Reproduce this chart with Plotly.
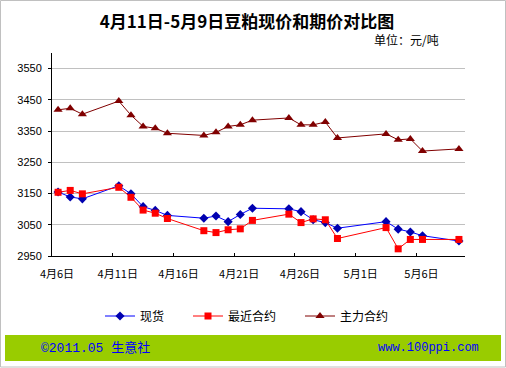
import plotly.graph_objects as go

# ---- data ----
dates = ["2011-04-06", "2011-04-07", "2011-04-08",
         "2011-04-11", "2011-04-12", "2011-04-13", "2011-04-14", "2011-04-15",
         "2011-04-18", "2011-04-19", "2011-04-20", "2011-04-21", "2011-04-22",
         "2011-04-25", "2011-04-26", "2011-04-27", "2011-04-28", "2011-04-29",
         "2011-05-03", "2011-05-04", "2011-05-05", "2011-05-06", "2011-05-09"]
spot = [3155, 3139, 3133, 3175, 3149, 3108, 3096, 3080, 3071, 3078, 3060, 3083, 3103,
        3101, 3092, 3066, 3057, 3039, 3060, 3036, 3027, 3015, 2998]
nearby = [3154, 3160, 3149, 3170, 3138, 3097, 3087, 3070, 3031, 3025, 3034, 3037, 3064,
          3084, 3057, 3069, 3066, 3006, 3041, 2973, 3003, 3003, 3003]
main = [3418, 3423, 3404, 3446, 3401, 3365, 3359, 3343, 3336, 3346, 3365, 3370, 3385,
        3392, 3370, 3370, 3379, 3328, 3341, 3322, 3325, 3286, 3293]
series_names = ["现货", "最近合约", "主力合约"]
tick_dates = ["2011-04-06", "2011-04-11", "2011-04-16", "2011-04-21",
              "2011-04-26", "2011-05-01", "2011-05-06"]
tick_text = ["4月6日", "4月11日", "4月16日", "4月21日", "4月26日", "5月1日", "5月6日"]
y_ticks = [2950, 3050, 3150, 3250, 3350, 3450, 3550]
title_text = "4月11日-5月9日豆粕现价和期价对比图"
unit_text = "单位：元/吨"
footer_left = "©2011.05 生意社"
footer_right = "www.100ppi.com"

W, H = 506, 368
L, R, T, B = 52, 41, 53, 112
PW, PH = W - L - R, H - T - B


def px(x):
    return (x - L) / PW


def py(y):
    return (H - B - y) / PH


CJK = "Noto Sans CJK SC"
fig = go.Figure()

styles = [
    dict(line=dict(color="#0000ff", width=1),
         marker=dict(symbol="diamond", size=7, color="#0000b0")),
    dict(line=dict(color="#ff0000", width=1),
         marker=dict(symbol="square", size=7, color="#ff0000")),
    dict(line=dict(color="#800000", width=1),
         marker=dict(symbol="triangle-up", size=8, color="#800000")),
]
legends = ["legend", "legend2", "legend3"]
for vals, name, st, lg in zip([spot, nearby, main], series_names, styles, legends):
    fig.add_trace(go.Scatter(
        x=dates, y=vals, name=name, mode="lines+markers",
        xperiod=86400000, xperiodalignment="middle",
        legend=lg, **st))

leg_x = [100, 188, 300]
leg_common = dict(orientation="h", xanchor="left", yanchor="middle",
                  y=py(316), bgcolor="rgba(0,0,0,0)", borderwidth=0,
                  font=dict(family=CJK, size=12, color="#000000"),
                  itemwidth=30)

fig.update_layout(
    width=W, height=H,
    margin=dict(l=L, r=R, t=T, b=B, autoexpand=False),
    paper_bgcolor="#ffffff", plot_bgcolor="#ffffff",
    title=dict(text="<b>" + title_text + "</b>", x=247 / W, xanchor="center",
               y=1 - 22 / H, yanchor="middle",
               font=dict(family=CJK, size=17, color="#000000")),
    xaxis=dict(type="date", range=["2011-04-06", "2011-05-10"],
               tickvals=tick_dates, ticktext=tick_text,
               ticks="inside", ticklen=3, tickcolor="#000000",
               showline=True, linecolor="#000000", linewidth=1,
               showgrid=False, zeroline=False, automargin=False,
               ticklabelshift=5, ticklabelstandoff=8,
               tickfont=dict(family=CJK, size=11, color="#000000")),
    yaxis=dict(range=[2950, 3600], tickvals=y_ticks,
               ticks="outside", ticklen=3, tickcolor="#000000",
               showline=True, linecolor="#000000", linewidth=1,
               showgrid=True, gridcolor="#c0c0c0", gridwidth=1,
               zeroline=False, ticklabelstandoff=4, automargin=False,
               tickfont=dict(family="Arial, Liberation Sans", size=11, color="#000000")),
    legend=dict(x=px(leg_x[0]), **leg_common),
    legend2=dict(x=px(leg_x[1]), **leg_common),
    legend3=dict(x=px(leg_x[2]), **leg_common),
    showlegend=True,
)

# outer border
fig.add_shape(type="rect", xref="paper", yref="paper",
              x0=px(0.5), x1=px(505.5), y0=py(367), y1=py(0.5),
              line=dict(color="#c0c0c0", width=1), fillcolor="rgba(0,0,0,0)", layer="below")
# footer band
fig.add_shape(type="rect", xref="paper", yref="paper",
              x0=px(5), x1=px(501), y0=py(361), y1=py(335),
              line=dict(width=0), fillcolor="#99cc00", layer="below")

fig.add_annotation(text=unit_text, xref="paper", yref="paper",
                   x=px(441), y=py(39), xanchor="right", yanchor="middle",
                   showarrow=False, font=dict(family=CJK, size=12, color="#000000"))
fig.add_annotation(text=footer_left, xref="paper", yref="paper",
                   x=px(39), y=py(348), xanchor="left", yanchor="middle",
                   showarrow=False,
                   font=dict(family="Liberation Mono, " + CJK, size=13, color="#0000ff"))
fig.add_annotation(text=footer_right, xref="paper", yref="paper",
                   x=px(481), y=py(348), xanchor="right", yanchor="middle",
                   showarrow=False,
                   font=dict(family="Liberation Mono", size=12, color="#0000ff"))

fig.write_html("out.html",
               config={"displayModeBar": False},
               post_script="document.body.style.margin='0px';document.body.style.overflow='hidden';")
